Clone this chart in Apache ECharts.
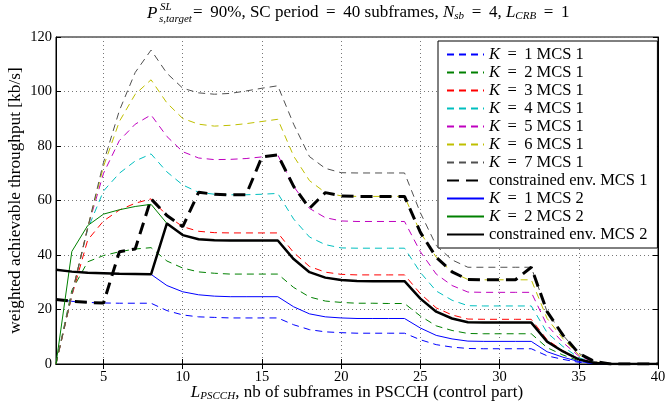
<!DOCTYPE html>
<html><head><meta charset="utf-8">
<script src="https://cdn.jsdelivr.net/npm/echarts@6/dist/echarts.min.js"></script>
<style>html,body{margin:0;padding:0;background:#fff}#c{width:668px;height:405px}</style>
</head><body><div id="c"></div>
<script>
// x = L_PSCCH
const xs = [2,3,4,5,6,7,8,9,10,11,12,13,14,15,16,17,18,19,20,21,22,23,24,25,26,27,28,29,30,31,32,33,34,35,36,37,38,39,40];
const xTicks = [5,10,15,20,25,30,35,40];
const k1m1 = [23.7,23.0,22.6,22.4,22.3,22.3,22.3,19.6,18.0,17.3,17.1,16.9,16.9,16.9,16.9,14.4,12.6,11.8,11.5,11.3,11.3,11.3,11.3,8.9,7.1,6.2,5.7,5.6,5.6,5.6,5.6,3.0,1.7,0.6,0.15,0,0,0,0];
const k2m1 = [0,27,37.5,39.8,41.2,42.2,42.7,37.8,35.2,33.8,33.3,33.0,33.0,33.0,33.0,28.1,24.6,23.1,22.6,22.3,22.3,22.2,22.2,17.6,14.0,12.3,11.2,11.1,11.1,11.1,11.1,6.0,3.3,1.2,0.3,0,0,0,0];
const k3m1 = [0,25,45.5,52.5,56.5,59,60.6,54.5,50.4,48.7,48.2,48.1,48.1,48.1,48.1,40.9,35.8,33.7,32.9,32.7,32.7,32.7,32.7,25.8,20.6,18.0,16.5,16.4,16.4,16.4,16.4,8.9,4.9,1.8,0.4,0,0,0,0];
const k4m1 = [0,25.5,49.5,63.5,70,74.5,77.1,70.5,65.7,63.0,62.3,62.1,62.1,62.3,62.6,53.2,46.6,43.8,42.6,42.5,42.5,42.5,42.5,33.6,26.8,23.4,21.4,21.3,21.3,21.3,21.3,11.5,6.4,2.3,0.5,0,0,0,0];
const k5m1 = [0,25.5,50,70,82,88,91.4,83.5,77.9,75.6,75.0,75.1,75.4,76.0,76.7,65.2,57.1,53.7,52.5,52.3,52.3,52.3,52.3,41.2,33.0,28.8,26.4,26.3,26.3,26.3,26.3,14.2,7.9,2.9,0.7,0,0,0,0];
const k6m1 = [0,25.5,50,72.5,89,99,104.3,95.8,90.1,88.0,87.3,87.6,88.2,89.0,89.8,76.3,67.3,62.9,61.7,61.5,61.5,61.5,61.5,48.3,39.2,33.8,31.0,30.9,30.9,30.9,30.9,16.7,9.3,3.4,0.8,0,0,0,0];
const k7m1 = [0,25.5,50,74,93,107,115.2,106.7,101.2,99.5,99.0,99.3,100.2,101.2,102.1,88.0,76.1,71.8,70.2,70.1,70.1,70.1,70.1,55.5,43.5,38.2,35.5,35.5,35.5,35.5,35.5,19.2,10.6,3.9,0.9,0,0,0,0];
const envM1 = [23.7,23.0,22.6,22.4,41.2,42.2,60.6,54.5,50.4,63.0,62.3,62.1,62.1,76.0,76.7,65.2,57.1,62.9,61.7,61.5,61.5,61.5,61.5,48.3,39.2,33.8,31.0,30.9,30.9,30.9,35.5,19.2,10.6,3.9,0.9,0,0,0,0];
const k1m2 = [34.6,33.9,33.5,33.3,33.1,33.0,32.9,28.8,26.5,25.4,24.9,24.7,24.7,24.7,24.7,21.0,18.4,17.3,16.9,16.7,16.7,16.7,16.7,13.2,10.5,9.2,8.4,8.3,8.3,8.3,8.3,4.5,2.5,0.9,0.2,0,0,0,0];
const k2m2 = [0,41.3,50.8,55.0,56.6,57.8,58.6,51.6,47.3,45.8,45.4,45.3,45.3,45.3,45.3,38.5,33.7,31.7,30.8,30.5,30.4,30.4,30.4,24.0,19.2,16.7,15.3,15.2,15.2,15.2,15.2,8.2,4.6,1.7,0.4,0,0,0,0];
const envM2 = [34.6,33.9,33.5,33.3,33.1,33.0,32.9,51.6,47.3,45.8,45.4,45.3,45.3,45.3,45.3,38.5,33.7,31.7,30.8,30.5,30.4,30.4,30.4,24.0,19.2,16.7,15.3,15.2,15.2,15.2,15.2,8.2,4.6,1.7,0.4,0,0,0,0];

const names = ['K = 1 MCS 1','K = 2 MCS 1','K = 3 MCS 1','K = 4 MCS 1','K = 5 MCS 1','K = 6 MCS 1','K = 7 MCS 1','constrained env. MCS 1','K = 1 MCS 2','K = 2 MCS 2','constrained env. MCS 2'];
const values = [k1m1,k2m1,k3m1,k4m1,k5m1,k6m1,k7m1,envM1,k1m2,k2m2,envM2];
const colors = ['#0000ff','#008000','#ff0000','#00bfbf','#bf00bf','#bfbf00','#505050','#000000','#0000ff','#008000','#000000'];
const widths = [1,1,1,1,1,1,1,3,1,1,2.5];
const dashes = [[7,5],[7,5],[7,5],[7,5],[7,5],[7,5],[7,5],[12,7],'solid','solid','solid'];

const FF = 'Liberation Serif';
const series = names.map((n,i)=>({
  name: n, type: 'line', symbol: 'none', animation: false,
  data: xs.map((x,j)=>[x, values[i][j]]),
  lineStyle: {color: colors[i], width: widths[i], type: dashes[i]},
  itemStyle: {color: colors[i]},
  z: 2 + i
}));

const TS = '\u2009';
const EQ = ' ' + TS + '=' + TS + ' ';
const chart = echarts.init(document.getElementById('c'));
chart.setOption({
  animation: false,
  backgroundColor: '#fff',
  grid: {left: 56, right: 10, top: 37, bottom: 41, containLabel: false, outerBoundsMode: 'none',
         show: true, borderColor: '#000', borderWidth: 1, backgroundColor: 'transparent'},
  xAxis: [{
    type: 'value', min: 2, max: 40,
    axisLine: {lineStyle: {color: '#000'}},
    axisTick: {inside: true, length: 5, customValues: xTicks, lineStyle: {color: '#000'}},
    axisLabel: {customValues: xTicks, color: '#000', fontFamily: FF, fontSize: 14.5, margin: 6},
    splitLine: {show: true, lineStyle: {color: '#777', type: [1,3]}},
    name: '{i|L}{s|PSCCH}, nb of subframes in PSCCH (control part)',
    nameLocation: 'middle', nameGap: 20, nameMoveOverlap: false,
    nameTextStyle: {color: '#000', fontFamily: FF, fontSize: 17, lineHeight: 18,
      rich: {i: {fontStyle: 'italic', fontFamily: FF, fontSize: 17, lineHeight: 18},
             s: {fontStyle: 'italic', fontFamily: FF, fontSize: 11, lineHeight: 8, verticalAlign: 'bottom'}}}
  },{
    type: 'value', min: 2, max: 40, position: 'top',
    axisLine: {lineStyle: {color: '#000'}},
    axisTick: {inside: true, length: 5, customValues: xTicks, lineStyle: {color: '#000'}},
    axisLabel: {show: false}, splitLine: {show: false}
  }],
  yAxis: [{
    type: 'value', min: 0, max: 120, interval: 20,
    axisLine: {show: true, lineStyle: {color: '#000'}},
    axisTick: {show: true, inside: true, length: 5, lineStyle: {color: '#000'}},
    axisLabel: {color: '#000', fontFamily: FF, fontSize: 14.5, margin: 4},
    splitLine: {show: true, lineStyle: {color: '#777', type: [1,3]}},
    name: 'weighted achievable throughput [kb/s]', nameLocation: 'middle', nameGap: 32, nameMoveOverlap: false,
    nameTextStyle: {color: '#000', fontFamily: FF, fontSize: 17.3}
  },{
    type: 'value', min: 0, max: 120, interval: 20, position: 'right',
    axisLine: {show: true, lineStyle: {color: '#000'}},
    axisTick: {show: true, inside: true, length: 5, lineStyle: {color: '#000'}},
    axisLabel: {show: false}, splitLine: {show: false}
  }],
  legend: {
    orient: 'vertical', left: 438, top: 41,
    padding: [5, 10, 5, 8], itemGap: 1, itemWidth: 37, itemHeight: 14,
    backgroundColor: '#fff', borderColor: '#000', borderWidth: 1,
    itemStyle: {opacity: 0, color: 'transparent', borderColor: 'transparent', borderWidth: 0},
    textStyle: {color: '#000', fontFamily: FF, fontSize: 16.5, padding: [0,0,0,0],
      rich: {i: {fontStyle: 'italic', fontFamily: FF, fontSize: 16.5}}},
    formatter: n => n.startsWith('K') ? '{i|K}' + n.slice(1).replace(/ = /, ' ' + TS + '=' + TS + ' ') : n,
    data: names
  },
  graphic: [
    {type: 'text', left: 147, top: 5, style: {text: 'P', fontFamily: FF, fontSize: 17, fontStyle: 'italic', fill: '#000'}},
    {type: 'text', left: 160, top: 2, style: {text: 'SL', fontFamily: FF, fontSize: 11, fontStyle: 'italic', fill: '#000'}},
    {type: 'text', left: 159, top: 14, style: {text: 's,target', fontFamily: FF, fontSize: 11, fontStyle: 'italic', fill: '#000'}},
    {type: 'text', left: 193, top: 4, style: {
      text: '=' + TS + ' 90%, SC period' + EQ + '40 subframes, {i|N}{s|sb}' + EQ + '4, {i|L}{s|CRB}' + EQ + '1',
      fontFamily: FF, fontSize: 17, lineHeight: 18, fill: '#000',
      rich: {i: {fontStyle: 'italic', fontFamily: FF, fontSize: 17, lineHeight: 18},
             s: {fontStyle: 'italic', fontFamily: FF, fontSize: 11, lineHeight: 8, verticalAlign: 'bottom'}}}}
  ],
  series: series
});
</script>
</body></html>
